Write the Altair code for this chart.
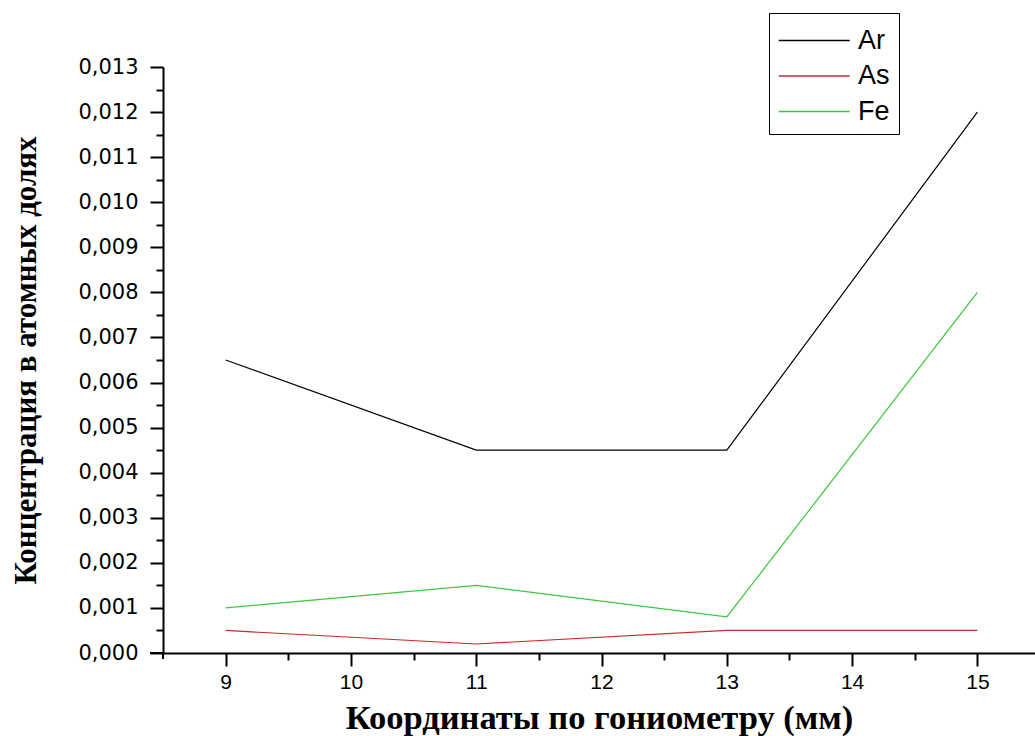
import altair as alt
import pandas as pd

# ---- data ----
x_mm = [9, 11, 13, 15]
ar_vals = [0.0065, 0.0045, 0.0045, 0.0120]
as_vals = [0.0005, 0.0002, 0.0005, 0.0005]
fe_vals = [0.0010, 0.0015, 0.0008, 0.0080]
series_names = ["Ar", "As", "Fe"]
series_colors = ["#000000", "#c42b2b", "#3cc83c"]

x_major = [9, 10, 11, 12, 13, 14, 15]
x_minor = [9.5, 10.5, 11.5, 12.5, 13.5, 14.5]
y_major = [0.000, 0.001, 0.002, 0.003, 0.004, 0.005, 0.006,
           0.007, 0.008, 0.009, 0.010, 0.011, 0.012, 0.013]
y_minor = [0.0005, 0.0015, 0.0025, 0.0035, 0.0045, 0.0055, 0.0065,
           0.0075, 0.0085, 0.0095, 0.0105, 0.0115, 0.0125]

x_title = "Координаты по гониометру (мм)"
y_title = "Концентрация в атомных долях"

rows = []
for name, vals in zip(series_names, [ar_vals, as_vals, fe_vals]):
    for xv, yv in zip(x_mm, vals):
        rows.append({"x": xv, "y": yv, "series": name})
df = pd.DataFrame(rows)

x_scale = alt.Scale(domain=[8.5, 15.46], nice=False, zero=False)
y_scale = alt.Scale(domain=[0, 0.013], nice=False, zero=False)

label_expr = "replace(format(datum.value, '.3f'), '.', ',')"

W, H = 872, 586

lines = alt.Chart(df).mark_line(strokeWidth=1.2, clip=False).encode(
    x=alt.X("x:Q", scale=x_scale, axis=alt.Axis(
        values=x_major, orient="bottom", grid=False,
        tickSize=13, tickWidth=2, tickColor="black",
        domainWidth=2, domainColor="black",
        labelFont="Liberation Sans", labelFontSize=21, labelColor="black",
        labelPadding=5, labelFlush=False,
        title=x_title, titleFont="Liberation Serif", titleFontWeight="bold",
        titleFontSize=34.5, titleColor="black", titlePadding=9)),
    y=alt.Y("y:Q", scale=y_scale, axis=alt.Axis(
        values=y_major, orient="left", grid=False,
        tickSize=13, tickWidth=2, tickColor="black",
        domainWidth=2, domainColor="black",
        labelExpr=label_expr,
        labelFont="DejaVu Sans", labelFontSize=21, labelColor="black",
        labelPadding=12, labelFlush=False,
        title=y_title, titleFont="Liberation Serif", titleFontWeight="bold",
        titleFontSize=31, titleColor="black", titlePadding=35)),
    color=alt.Color("series:N",
                    scale=alt.Scale(domain=series_names, range=series_colors),
                    legend=alt.Legend(
                        title=None, orient="none", legendX=606, legendY=-54,
                        symbolType="M-1,0H3", symbolSize=1260,
                        symbolStrokeWidth=1.3,
                        labelFont="Liberation Sans", labelFontSize=27,
                        labelColor="black", labelOffset=43,
                        rowPadding=3.5, padding=9,
                        strokeColor="black", fillColor="white")),
)

minor = alt.Chart(df).mark_point(opacity=0).encode(
    x=alt.X("x:Q", scale=x_scale, axis=alt.Axis(
        values=x_minor, orient="bottom", grid=False, labels=False,
        domain=False, tickSize=7, tickWidth=2, tickColor="black", title=None)),
    y=alt.Y("y:Q", scale=y_scale, axis=alt.Axis(
        values=y_minor, orient="left", grid=False, labels=False,
        domain=False, tickSize=7, tickWidth=2, tickColor="black", title=None)),
)

# small extensions of the axis lines past the origin (as in the reference)
ext_df = pd.DataFrame({"k": [0]})
ext_x = alt.Chart(ext_df).mark_rule(color="black", strokeWidth=2).encode(
    x=alt.value(-13), x2=alt.value(0), y=alt.value(H))
ext_y = alt.Chart(ext_df).mark_rule(color="black", strokeWidth=2).encode(
    x=alt.value(0), y=alt.value(H), y2=alt.value(H + 6))

chart = alt.layer(lines, minor, ext_x, ext_y).resolve_axis(
    x="independent", y="independent"
).properties(
    width=W, height=H,
    background="white",
    autosize=alt.AutoSizeParams(type="none"),
    padding={"left": 163, "top": 67, "right": 0, "bottom": 83},
).configure_view(strokeWidth=0, stroke="transparent")

chart.save("out.html", embed_options={"renderer": "svg", "actions": False})
